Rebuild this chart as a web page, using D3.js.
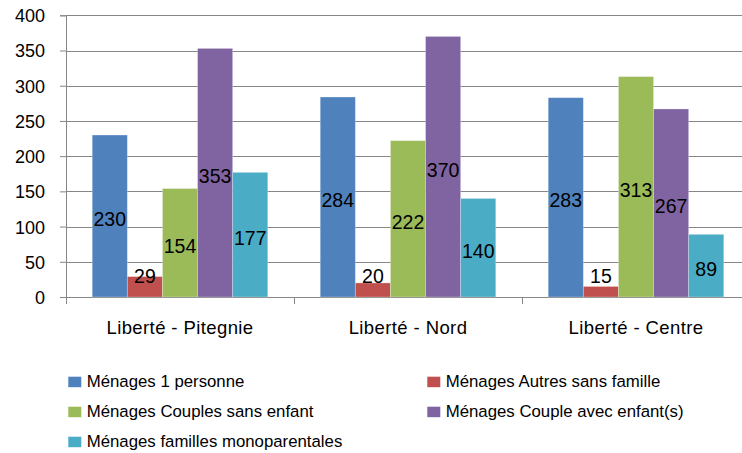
<!DOCTYPE html>
<html>
<head>
<meta charset="utf-8">
<script src="https://cdn.jsdelivr.net/npm/d3@7"></script>
<style>
  body { margin: 0; background: #ffffff; }
  svg { display: block; }
</style>
</head>
<body>
<div id="chart_container"></div>
<script>
// data
var categories = ["Liberté - Pitegnie", "Liberté - Nord", "Liberté - Centre"];
var seriesNames = [
    "Ménages 1 personne",
    "Ménages Autres sans famille",
    "Ménages Couples sans enfant",
    "Ménages Couple avec enfant(s)",
    "Ménages familles monoparentales"
];
var seriesColors = ["#4F81BD", "#C0504D", "#9BBB59", "#8064A2", "#4BACC6"];
// one array per series, in category order
var unePersonne = [230, 284, 283];
var autresSansFamille = [29, 20, 15];
var couplesSansEnfant = [154, 222, 313];
var coupleAvecEnfants = [353, 370, 267];
var monoparentales = [177, 140, 89];
var yTicks = [0, 50, 100, 150, 200, 250, 300, 350, 400];

var seriesValues = [unePersonne, autresSansFamille, couplesSansEnfant, coupleAvecEnfants, monoparentales];

// flat table the bars are drawn from
var table = [];
seriesValues.forEach(function(vals, s) {
    vals.forEach(function(v, c) {
        table.push({cat: categories[c], series: seriesNames[s], value: v, color: seriesColors[s]});
    });
});

// dimensions
var W = 742, H = 453;
var plot = {left: 66, right: 750, top: 15.3, bottom: 297};
var font = "'Liberation Sans', Arial, sans-serif";

var svg = d3.select("#chart_container")
    .append("svg")
        .attr("width", W)
        .attr("height", H);

// scales
var x0 = d3.scaleBand()
    .domain(categories)
    .range([plot.left, plot.right])
    .paddingInner(0.23)
    .paddingOuter(0.115);

var x1 = d3.scaleBand()
    .domain(seriesNames)
    .range([0, x0.bandwidth()]);

var y = d3.scaleLinear()
    .domain([0, 400])
    .range([plot.bottom, plot.top]);

// GRIDLINES + Y AXIS *******************************
var yAxis = svg.append("g")
    .attr("transform", "translate(" + plot.left + ",0)")
    .call(d3.axisLeft(y)
        .tickValues(yTicks)
        .tickSize(6)
        .tickPadding(15));

yAxis.select(".domain").attr("stroke", "#868686");
yAxis.selectAll(".tick line").attr("stroke", "#868686");
yAxis.selectAll(".tick text")
    .attr("font-family", font)
    .attr("font-size", 18)
    .attr("fill", "#000")
    .attr("dy", "0.36em");

// horizontal gridlines (0 line doubles as the x axis)
svg.append("g").selectAll("line")
    .data(yTicks)
    .enter().append("line")
        .attr("x1", plot.left)
        .attr("x2", W)
        .attr("y1", d => Math.round(y(d)) + 0.5)
        .attr("y2", d => Math.round(y(d)) + 0.5)
        .attr("stroke", "#868686")
        .attr("stroke-width", 1);

// category boundary ticks on the x axis
var step = x0.step();
var boundaries = d3.range(categories.length + 1).map(i => plot.left + i * step);
svg.append("g").selectAll("line")
    .data(boundaries)
    .enter().append("line")
        .attr("x1", d => Math.round(d) + 0.5)
        .attr("x2", d => Math.round(d) + 0.5)
        .attr("y1", plot.bottom)
        .attr("y2", plot.bottom + 7)
        .attr("stroke", "#868686");

// BARS *********************************************
svg.append("g").selectAll("rect")
    .data(table)
    .enter().append("rect")
        .attr("x", d => x0(d.cat) + x1(d.series))
        .attr("y", d => y(d.value))
        .attr("width", x1.bandwidth())
        .attr("height", d => y(0) - y(d.value))
        .attr("fill", d => d.color)
        .attr("stroke", "rgba(255,255,255,0.35)")
        .attr("stroke-width", 0.8);

// data labels: centred in the bar, pushed up when the bar is too short
svg.append("g").selectAll("text")
    .data(table)
    .enter().append("text")
        .attr("x", d => x0(d.cat) + x1(d.series) + x1.bandwidth() / 2)
        .attr("y", d => Math.min(y(d.value / 2), y(0) - 24.3) + 10)
        .attr("text-anchor", "middle")
        .attr("font-family", font)
        .attr("font-size", 19.5)
        .attr("fill", "#000")
        .text(d => d.value);

// category labels
svg.append("g").selectAll("text")
    .data(categories)
    .enter().append("text")
        .attr("x", d => x0(d) + x0.bandwidth() / 2)
        .attr("y", 334)
        .attr("text-anchor", "middle")
        .attr("font-family", font)
        .attr("font-size", 18.5)
        .attr("letter-spacing", 0.4)
        .attr("fill", "#000")
        .text(d => d);

// LEGEND *******************************************
var legendCols = [68.3, 427.3];
var legendRows = [387.3, 417.3, 447.3];

var legend = svg.append("g").selectAll("g")
    .data(seriesNames)
    .enter().append("g")
        .attr("transform", (d, i) => "translate(" + legendCols[i % 2] + "," + legendRows[Math.floor(i / 2)] + ")");

legend.append("rect")
    .attr("x", 0)
    .attr("y", -10.6)
    .attr("width", 13)
    .attr("height", 10.5)
    .attr("fill", (d, i) => seriesColors[i]);

legend.append("text")
    .attr("x", 18.4)
    .attr("y", 0)
    .attr("font-family", font)
    .attr("font-size", 16.8)
    .attr("fill", "#000")
    .text(d => d);
</script>
</body>
</html>
